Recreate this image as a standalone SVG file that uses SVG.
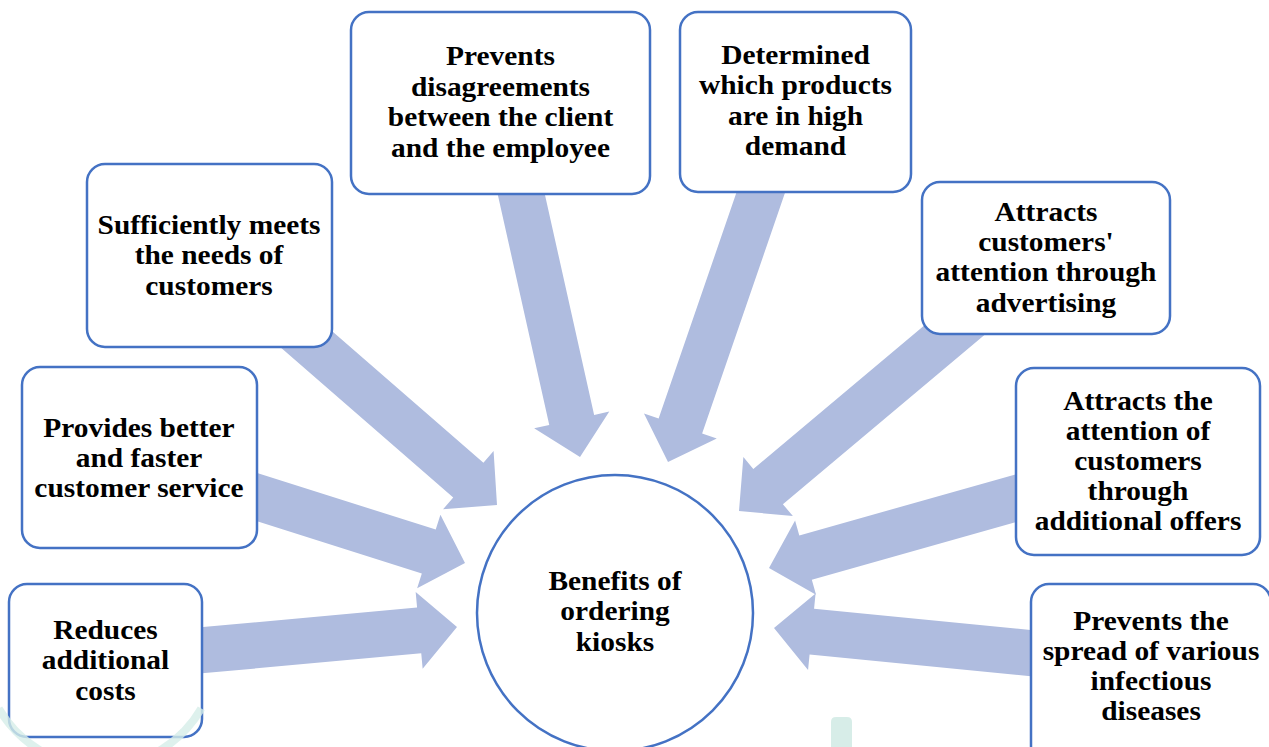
<svg xmlns="http://www.w3.org/2000/svg" width="1269" height="747" viewBox="0 0 1269 747">
<defs>
<style>
.arrow{fill:#AFBCDF;stroke:none}
.box{fill:#FFFFFF;stroke:#4472C4;stroke-width:2.5}
.lbl{font-family:"Liberation Serif","Times New Roman",serif;font-weight:bold;font-size:26.5px;fill:#000;text-anchor:middle}
.wm{fill:none;stroke:#D6EEE9;stroke-width:8}
</style>
</defs>
<rect x="0" y="0" width="1269" height="747" fill="#FFFFFF"/>
<g id="connectors">
<polygon class="arrow" transform="translate(457,627) rotate(-5.2)" points="-278,-23 -38,-23 -38,-38.5 0,0 -38,38.5 -38,23 -278,23"/>
<polygon class="arrow" transform="translate(465,563) rotate(17.6)" points="-250,-23 -38,-23 -38,-38.5 0,0 -38,38.5 -38,23 -250,23"/>
<polygon class="arrow" transform="translate(497,505) rotate(41)" points="-313,-23 -38,-23 -38,-38.5 0,0 -38,38.5 -38,23 -313,23"/>
<polygon class="arrow" transform="translate(580,457) rotate(77.4)" points="-300,-23 -38,-23 -38,-38.5 0,0 -38,38.5 -38,23 -300,23"/>
<polygon class="arrow" transform="translate(668,462) rotate(109)" points="-300,-23 -38,-23 -38,-38.5 0,0 -38,38.5 -38,23 -300,23"/>
<polygon class="arrow" transform="translate(739,511) rotate(140)" points="-310,-23 -38,-23 -38,-38.5 0,0 -38,38.5 -38,23 -310,23"/>
<polygon class="arrow" transform="translate(769,568) rotate(164.2)" points="-290,-23 -38,-23 -38,-38.5 0,0 -38,38.5 -38,23 -290,23"/>
<polygon class="arrow" transform="translate(774,628) rotate(185.6)" points="-280,-23 -38,-23 -38,-38.5 0,0 -38,38.5 -38,23 -280,23"/>
</g>
<g id="node-reduces">
<rect class="box" x="9" y="584" width="193" height="153" rx="18"/>
<text class="lbl" transform="translate(105.5,0) scale(1.11,1)"><tspan x="0" y="639">Reduces</tspan><tspan x="0" y="669.5">additional</tspan><tspan x="0" y="700">costs</tspan></text>
</g>
<g id="node-provides">
<rect class="box" x="22" y="367" width="235" height="181" rx="18"/>
<text class="lbl" transform="translate(139,0) scale(1.11,1)"><tspan x="0" y="437">Provides better</tspan><tspan x="0" y="467">and faster</tspan><tspan x="0" y="497">customer service</tspan></text>
</g>
<g id="node-sufficiently">
<rect class="box" x="87" y="164" width="245" height="183" rx="18"/>
<text class="lbl" transform="translate(209,0) scale(1.11,1)"><tspan x="0" y="234.5">Sufficiently meets</tspan><tspan x="0" y="264.5">the needs of</tspan><tspan x="0" y="295">customers</tspan></text>
</g>
<g id="node-disagreements">
<rect class="box" x="351" y="12" width="299" height="182" rx="18"/>
<text class="lbl" transform="translate(500.5,0) scale(1.11,1)"><tspan x="0" y="65">Prevents</tspan><tspan x="0" y="96">disagreements</tspan><tspan x="0" y="126.5">between the client</tspan><tspan x="0" y="157">and the employee</tspan></text>
</g>
<g id="node-determined">
<rect class="box" x="680" y="12" width="231" height="180" rx="18"/>
<text class="lbl" transform="translate(795.5,0) scale(1.11,1)"><tspan x="0" y="64">Determined</tspan><tspan x="0" y="94.5">which products</tspan><tspan x="0" y="125">are in high</tspan><tspan x="0" y="155.5">demand</tspan></text>
</g>
<g id="node-advertising">
<rect class="box" x="922" y="182" width="248" height="152" rx="18"/>
<text class="lbl" transform="translate(1046,0) scale(1.11,1)"><tspan x="0" y="221">Attracts</tspan><tspan x="0" y="251">customers'</tspan><tspan x="0" y="281.5">attention through</tspan><tspan x="0" y="312">advertising</tspan></text>
</g>
<g id="node-offers">
<rect class="box" x="1016" y="368" width="244" height="187" rx="18"/>
<text class="lbl" transform="translate(1138,0) scale(1.11,1)"><tspan x="0" y="410">Attracts the</tspan><tspan x="0" y="440">attention of</tspan><tspan x="0" y="470">customers</tspan><tspan x="0" y="500">through</tspan><tspan x="0" y="530">additional offers</tspan></text>
</g>
<g id="node-diseases">
<rect class="box" x="1031" y="584" width="240" height="180" rx="18"/>
<text class="lbl" transform="translate(1151,0) scale(1.11,1)"><tspan x="0" y="630">Prevents the</tspan><tspan x="0" y="660">spread of various</tspan><tspan x="0" y="690">infectious</tspan><tspan x="0" y="720">diseases</tspan></text>
</g>
<g id="node-center">
<circle class="box" cx="615" cy="613" r="138"/>
<text class="lbl" transform="translate(615,0) scale(1.11,1)"><tspan x="0" y="590">Benefits of</tspan><tspan x="0" y="620.5">ordering</tspan><tspan x="0" y="651">kiosks</tspan></text>
</g>
<g id="watermark" opacity="0.8">
<path class="wm" d="M-1.3,708.5 A117,117 0 0 0 201.3,708.5"/>
<path d="M831,747 V722 Q831,717 836,717 H847 Q852,717 852,722 V747 Z" fill="#CDE8E2"/>
</g>
</svg>
